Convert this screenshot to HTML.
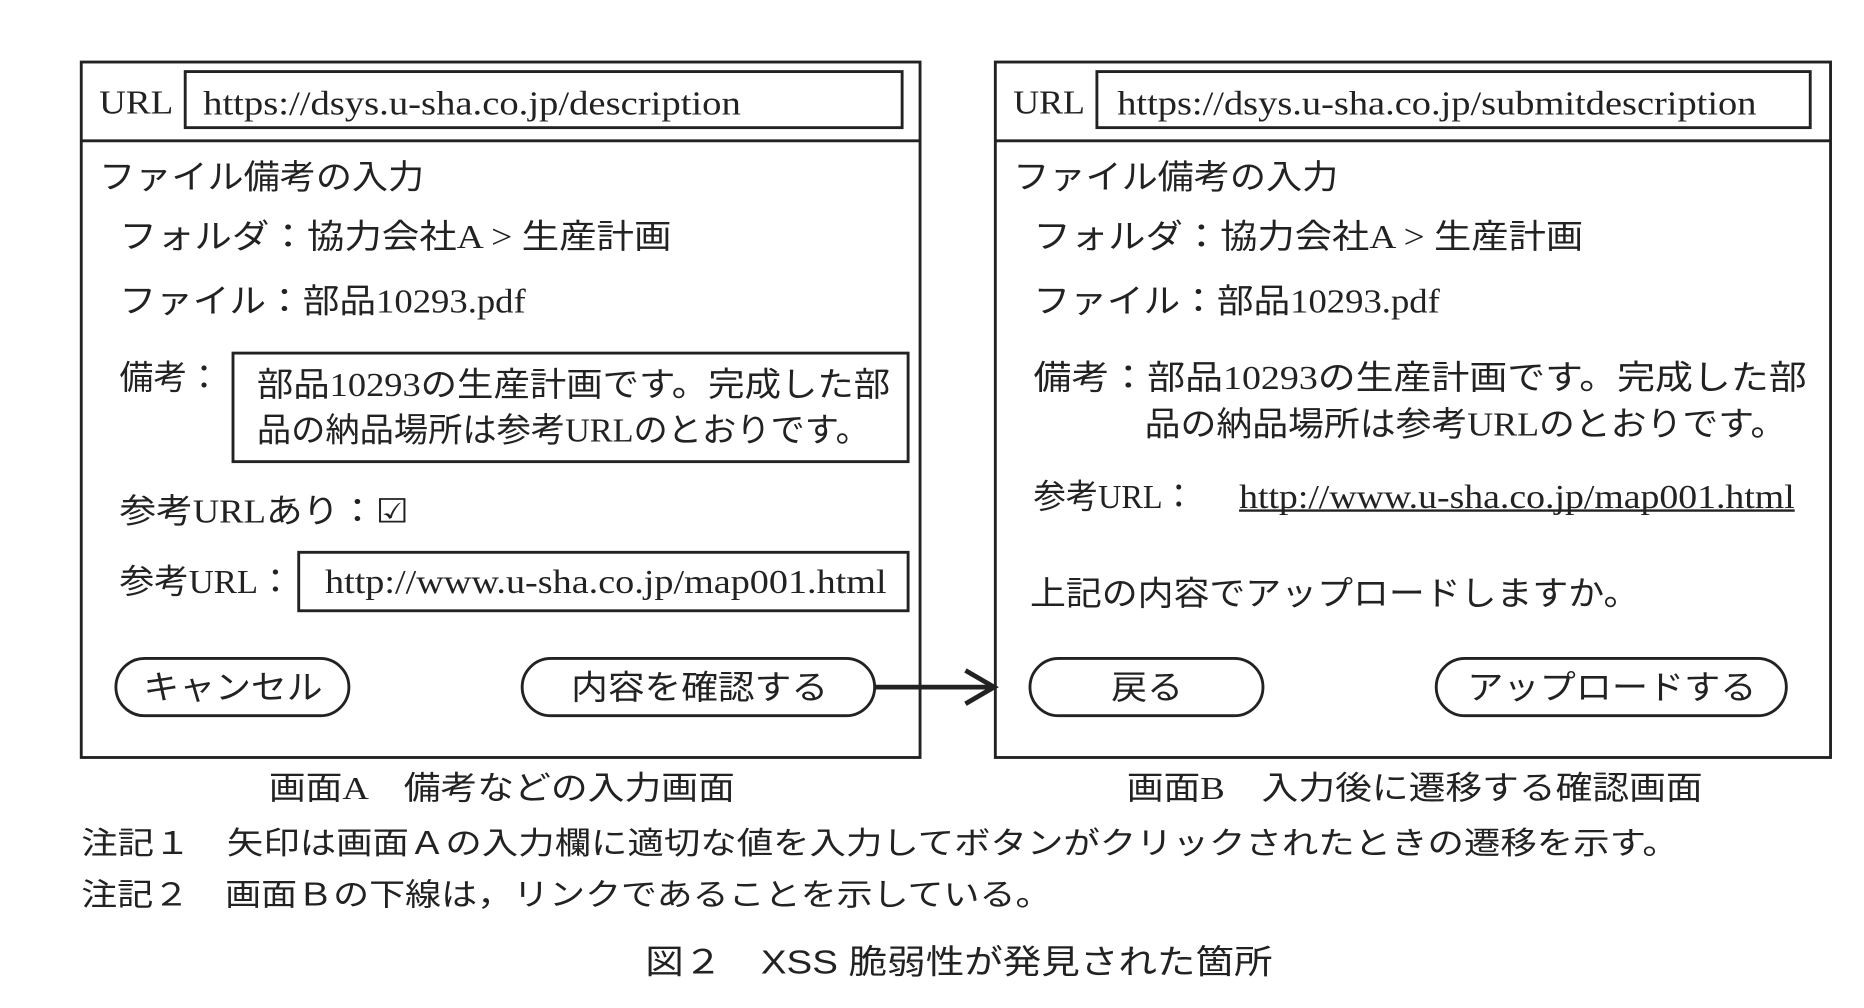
<!DOCTYPE html>
<html><head><meta charset="utf-8"><style>
html,body{margin:0;padding:0;background:#fff;width:1864px;height:1008px;overflow:hidden}
svg{display:block}
text{font-family:"Liberation Serif","Noto Sans CJK JP",serif;fill:#222;font-size:28px}
.j{font-family:"Liberation Sans","Noto Sans CJK JP",sans-serif}
</style></head><body>
<svg width="1864" height="1008" viewBox="0 0 1560 845" preserveAspectRatio="none" xmlns="http://www.w3.org/2000/svg">
<g fill="none" stroke="#222" stroke-width="2.4">
<rect x="68" y="52" width="702" height="583"/>
<line x1="68" y1="118" x2="770" y2="118"/>
<rect x="155" y="60" width="600" height="47"/>
<rect x="195" y="296" width="565" height="91"/>
<rect x="250" y="463" width="510" height="49"/>
<rect x="97" y="552" width="195" height="48" rx="24"/>
<rect x="437" y="552" width="295" height="48" rx="24"/>
<rect x="833" y="52" width="699" height="583"/>
<line x1="833" y1="118" x2="1532" y2="118"/>
<rect x="918" y="60" width="597" height="47"/>
<rect x="862" y="552" width="195" height="48" rx="24"/>
<rect x="1202" y="552" width="293" height="48" rx="24"/>
<line x1="732" y1="576" x2="830" y2="576" stroke-width="4"/>
<polyline points="808,562 832,576 808,590" stroke-width="4"/>
<line x1="1037" y1="428" x2="1502" y2="428" stroke-width="2"/>
</g>
<text x="83" y="95" textLength="62" lengthAdjust="spacingAndGlyphs">URL</text>
<text x="170" y="96" textLength="450" lengthAdjust="spacingAndGlyphs">https://dsys.u-sha.co.jp/description</text>
<text x="83" y="158" textLength="272" lengthAdjust="spacingAndGlyphs">ファイル備考の入力</text>
<text x="100" y="208" textLength="462" lengthAdjust="spacingAndGlyphs">フォルダ：協力会社A &gt; 生産計画</text>
<text x="100" y="262" textLength="340" lengthAdjust="spacingAndGlyphs">ファイル：部品10293.pdf</text>
<text x="100" y="326" textLength="85" lengthAdjust="spacingAndGlyphs">備考：</text>
<text x="215" y="332" textLength="530" lengthAdjust="spacingAndGlyphs">部品10293の生産計画です。完成した部</text>
<text x="215" y="370" textLength="513" lengthAdjust="spacingAndGlyphs">品の納品場所は参考URLのとおりです。</text>
<text x="100" y="438" textLength="242" lengthAdjust="spacingAndGlyphs">参考URLあり：☑</text>
<text x="100" y="497" textLength="145" lengthAdjust="spacingAndGlyphs">参考URL：</text>
<text x="272" y="497" textLength="470" lengthAdjust="spacingAndGlyphs">http://www.u-sha.co.jp/map001.html</text>
<text x="120" y="586" textLength="150" lengthAdjust="spacingAndGlyphs">キャンセル</text>
<text x="478" y="586" textLength="215" lengthAdjust="spacingAndGlyphs">内容を確認する</text>
<text x="848" y="95" textLength="60" lengthAdjust="spacingAndGlyphs">URL</text>
<text x="935" y="96" textLength="535" lengthAdjust="spacingAndGlyphs">https://dsys.u-sha.co.jp/submitdescription</text>
<text x="848" y="158" textLength="272" lengthAdjust="spacingAndGlyphs">ファイル備考の入力</text>
<text x="865" y="208" textLength="460" lengthAdjust="spacingAndGlyphs">フォルダ：協力会社A &gt; 生産計画</text>
<text x="865" y="262" textLength="340" lengthAdjust="spacingAndGlyphs">ファイル：部品10293.pdf</text>
<text x="865" y="326" textLength="647" lengthAdjust="spacingAndGlyphs">備考：部品10293の生産計画です。完成した部</text>
<text x="958" y="365" textLength="537" lengthAdjust="spacingAndGlyphs">品の納品場所は参考URLのとおりです。</text>
<text x="865" y="426" textLength="135" lengthAdjust="spacingAndGlyphs">参考URL：</text>
<text x="1037" y="426" textLength="465" lengthAdjust="spacingAndGlyphs">http://www.u-sha.co.jp/map001.html</text>
<text x="862" y="507" textLength="510" lengthAdjust="spacingAndGlyphs">上記の内容でアップロードしますか。</text>
<text x="930" y="586" textLength="60" lengthAdjust="spacingAndGlyphs">戻る</text>
<text x="1228" y="586" textLength="242" lengthAdjust="spacingAndGlyphs">アップロードする</text>
<text x="225" y="670" textLength="390" lengthAdjust="spacingAndGlyphs" style="font-size:27px">画面A　備考などの入力画面</text>
<text x="943" y="670" textLength="482" lengthAdjust="spacingAndGlyphs" style="font-size:27px">画面B　入力後に遷移する確認画面</text>
<text class="j" x="68" y="716" textLength="1337" lengthAdjust="spacingAndGlyphs" style="font-size:26px">注記１　矢印は画面Ａの入力欄に適切な値を入力してボタンがクリックされたときの遷移を示す。</text>
<text class="j" x="68" y="759" textLength="812" lengthAdjust="spacingAndGlyphs" style="font-size:26px">注記２　画面Ｂの下線は，リンクであることを示している。</text>
<text class="j" x="540" y="816" textLength="525" lengthAdjust="spacingAndGlyphs" style="font-size:28px">図２　XSS 脆弱性が発見された箇所</text>
</svg>
</body></html>
